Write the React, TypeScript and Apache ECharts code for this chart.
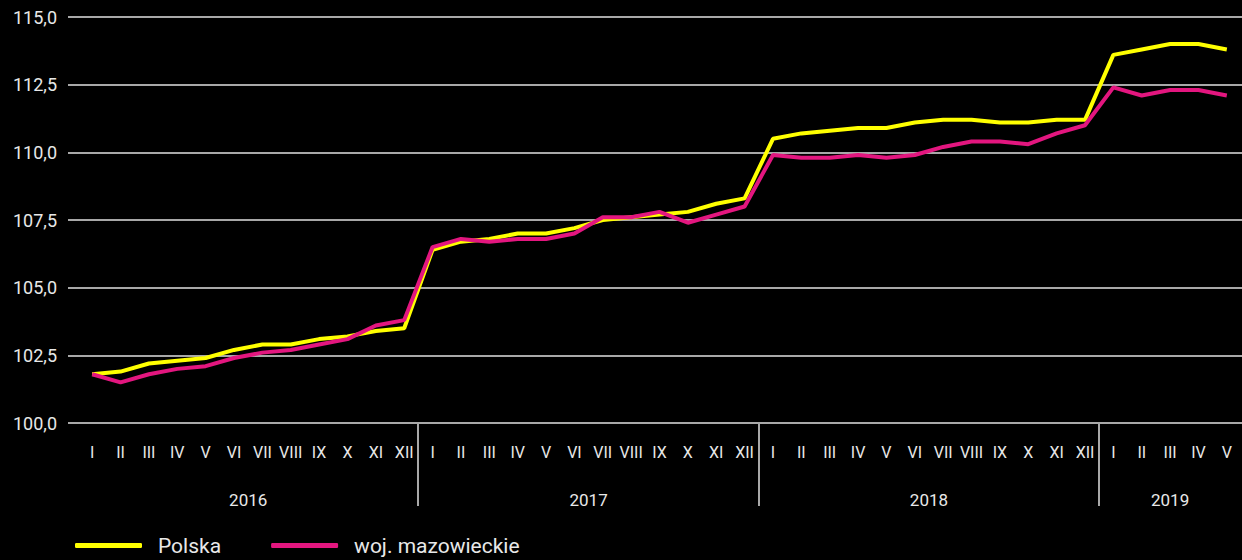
import React, { useEffect, useRef } from "react";
import * as echarts from "echarts";

const years = ["2016", "2017", "2018", "2019"];
const monthsPerYear = [12, 12, 12, 5];
const romanMonths = ["I", "II", "III", "IV", "V", "VI", "VII", "VIII", "IX", "X", "XI", "XII"];

const polska = [
  101.8, 101.9, 102.2, 102.3, 102.4, 102.7, 102.9, 102.9, 103.1, 103.2, 103.4, 103.5,
  106.4, 106.7, 106.8, 107.0, 107.0, 107.2, 107.5, 107.6, 107.7, 107.8, 108.1, 108.3,
  110.5, 110.7, 110.8, 110.9, 110.9, 111.1, 111.2, 111.2, 111.1, 111.1, 111.2, 111.2,
  113.6, 113.8, 114.0, 114.0, 113.8,
];
const mazowieckie = [
  101.8, 101.5, 101.8, 102.0, 102.1, 102.4, 102.6, 102.7, 102.9, 103.1, 103.6, 103.8,
  106.5, 106.8, 106.7, 106.8, 106.8, 107.0, 107.6, 107.6, 107.8, 107.4, 107.7, 108.0,
  109.9, 109.8, 109.8, 109.9, 109.8, 109.9, 110.2, 110.4, 110.4, 110.3, 110.7, 111.0,
  112.4, 112.1, 112.3, 112.3, 112.1,
];
const seriesNames = ["Polska", "woj. mazowieckie"];
const yMin = 100;
const yMax = 115;
const yStep = 2.5;

const FONT = "Roboto";
const TEXT = "#e8e8e8";
const GRID = "#a8a8a8";

export default function App() {
  const ref = useRef<HTMLDivElement>(null);
  useEffect(() => {
    if (!ref.current) return;
    const chart = echarts.init(ref.current, null, { renderer: "svg" });
    const categories: string[] = [];
    monthsPerYear.forEach((n) => {
      for (let i = 0; i < n; i++) categories.push(romanMonths[i]);
    });
    const top = 17;
    const bottom = 137;
    chart.setOption({
      animation: false,
      backgroundColor: "#000",
      textStyle: { fontFamily: FONT },
      grid: [
        { left: 68, right: 0, top, bottom },
        { left: 78, right: 1, top, bottom },
      ],
      xAxis: [
        { type: "category", gridIndex: 0, data: categories, show: false },
        {
          type: "category",
          gridIndex: 1,
          data: categories,
          boundaryGap: true,
          axisLine: { show: false },
          axisTick: { show: false },
          axisLabel: { interval: 0, color: TEXT, fontSize: 16, margin: 21, fontFamily: FONT },
        },
      ],
      yAxis: [
        {
          type: "value",
          gridIndex: 0,
          min: yMin,
          max: yMax,
          interval: yStep,
          axisLine: { show: false },
          axisTick: { show: false },
          splitLine: { show: true, lineStyle: { color: GRID, width: 2 } },
          axisLabel: {
            color: TEXT,
            fontSize: 18,
            margin: 11,
            fontFamily: FONT,
            formatter: (v: number) => v.toFixed(1).replace(".", ","),
          },
        },
        {
          type: "value",
          gridIndex: 1,
          min: yMin,
          max: yMax,
          interval: yStep,
          show: false,
          splitLine: { show: false },
        },
      ],
      legend: {
        left: 75,
        top: 535,
        padding: 0,
        itemWidth: 67,
        itemHeight: 5,
        itemGap: 50,
        icon: "roundRect",
        formatter: (name: string) => `{t|${name}}`,
        textStyle: {
          color: TEXT,
          fontSize: 21,
          fontFamily: FONT,
          rich: { t: { color: TEXT, fontSize: 21, fontFamily: FONT, padding: [0, 0, 0, 11] } },
        },
        data: seriesNames,
      },
      series: [
        {
          name: seriesNames[0],
          type: "line",
          xAxisIndex: 1,
          yAxisIndex: 1,
          data: polska,
          symbol: "none",
          color: "#ffff00",
          lineStyle: { width: 4, color: "#ffff00" },
        },
        {
          name: seriesNames[1],
          type: "line",
          xAxisIndex: 1,
          yAxisIndex: 1,
          data: mazowieckie,
          symbol: "none",
          color: "#e3167f",
          lineStyle: { width: 4, color: "#e3167f" },
        },
      ],
    });

    // Year labels and separators computed through the axis scale
    const graphics: any[] = [];
    let start = 0;
    const axisY = 560 - bottom;
    monthsPerYear.forEach((n, yi) => {
      const end = start + n - 1;
      const x0 = chart.convertToPixel({ xAxisIndex: 1 }, start) as number;
      const x1 = chart.convertToPixel({ xAxisIndex: 1 }, end) as number;
      graphics.push({
        type: "text",
        x: (x0 + x1) / 2,
        y: 500,
        style: {
          text: years[yi],
          fill: TEXT,
          font: `17px ${FONT}`,
          align: "center",
          verticalAlign: "middle",
        },
      });
      if (yi < monthsPerYear.length - 1) {
        const xn = chart.convertToPixel({ xAxisIndex: 1 }, end + 1) as number;
        const xs = Math.round((x1 + xn) / 2);
        graphics.push({
          type: "line",
          shape: { x1: xs, y1: axisY, x2: xs, y2: 506 },
          style: { stroke: GRID, lineWidth: 2 },
        });
      }
      start += n;
    });
    chart.setOption({ graphic: graphics });

    return () => chart.dispose();
  }, []);
  return (
    <div
      ref={ref}
      style={{ position: "absolute", left: 0, top: 0, width: 1242, height: 560 }}
    />
  );
}
